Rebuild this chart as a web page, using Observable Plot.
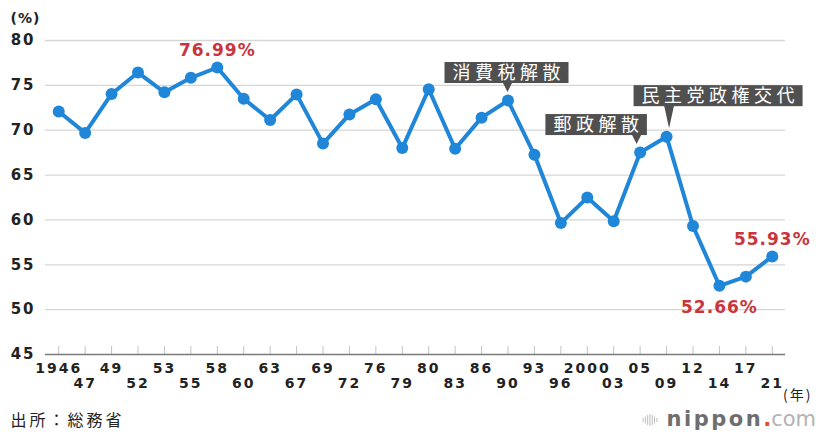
<!DOCTYPE html>
<html lang="ja">
<head>
<meta charset="utf-8">
<script src="https://cdn.jsdelivr.net/npm/d3@7"></script>
<script src="https://cdn.jsdelivr.net/npm/@observablehq/plot@0.6"></script>
<style>
html,body{margin:0;padding:0;background:#fff;}
#chart svg{display:block;}
g[aria-label="x-axis tick label"] text{letter-spacing:2px;}
g[aria-label="y-axis tick label"] text{letter-spacing:2px;}
</style>
</head>
<body>
<div id="chart"></div>
<script>
// ---- data ----
const years = ["1946","1947","1949","1952","1953","1955","1958","1960","1963","1967","1969","1972","1976","1979","1980","1983","1986","1990","1993","1996","2000","2003","2005","2009","2012","2014","2017","2021"];
const tickLabels = ["1946","47","49","52","53","55","58","60","63","67","69","72","76","79","80","83","86","90","93","96","2000","03","05","09","12","14","17","21"];
const turnout = [72.08,69.7,74.04,76.43,74.22,75.84,76.99,73.51,71.14,73.99,68.51,71.76,73.45,68.01,74.57,67.94,71.40,73.31,67.26,59.65,62.49,59.86,67.51,69.28,59.32,52.66,53.68,55.93];
const yTicks = [45,50,55,60,65,70,75,80];
const peakYearsAbove = ["1958","2021"];
const peakYearsBelow = ["2014"];
const eventYears = ["1990","2005","2009"];
const eventLabels = ["消費税解散","郵政解散","民主党政権交代"];
const yUnit = "(%)";
const xUnit = "(年)";
const source = "出所：総務省";

// ---- styles / layout ----
const blue = "#1f86d8", red = "#c9353d", boxFill = "#505050";
const numFont = "'DejaVu Sans', 'Liberation Sans', sans-serif";
const jpFont = "'Noto Sans CJK JP', 'Noto Sans', sans-serif";
const callout = {size: 18, spacing: 4.5, pad: 8, h: 21};
const calloutLayout = {
  "1990": {dx: -1, dy: -27.5, tipDx: 0},
  "2005": {dx: -43.5, dy: -27.5, tipDx: -3},
  "2009": {dx: 52, dy: -40.5, tipDx: 3}
};

// ---- tables ----
const data = years.map((year, i) => ({year, value: turnout[i]}));
const labelOf = new Map(years.map((y, i) => [y, tickLabels[i]]));
const rowA = years.filter((_, i) => i % 2 === 0);
const rowB = years.filter((_, i) => i % 2 === 1);
const yMin = yTicks[0], yMax = yTicks[yTicks.length - 1];
const peakAbove = data.filter(d => peakYearsAbove.includes(d.year));
const peakBelow = data.filter(d => peakYearsBelow.includes(d.year));
const calloutData = eventYears.map((year, i) => ({year, label: eventLabels[i], value: turnout[years.indexOf(year)]}));

// render wrapper that adds letter-spacing to the text elements of a mark
const spaced = (px) => (index, scales, values, dimensions, context, next) => {
  const g = next(index, scales, values, dimensions, context);
  d3.select(g).selectAll("text").style("letter-spacing", px + "px");
  return g;
};

function calloutRender(index, scales, values) {
  const g = d3.create("svg:g").attr("aria-label", "callout");
  for (const i of index) {
    const d = calloutData[i];
    const L = calloutLayout[d.year];
    const px = values.x[i], py = values.y[i];
    const n = Array.from(d.label).length;
    const w = n * (callout.size + callout.spacing) - callout.spacing + 2 * callout.pad;
    const cx = px + L.dx, cy = py + L.dy;
    const top = cy - callout.h / 2, bottom = cy + callout.h / 2;
    const tx = px + L.tipDx;
    g.append("path")
      .attr("d", `M${tx - 5},${bottom - 1}L${tx + 5},${bottom - 1}L${tx},${py - 8}Z`)
      .attr("fill", boxFill);
    g.append("rect")
      .attr("x", cx - w / 2).attr("y", top)
      .attr("width", w).attr("height", callout.h)
      .attr("fill", boxFill);
    g.append("text")
      .attr("x", cx + callout.spacing / 2).attr("y", cy)
      .attr("dy", "0.36em")
      .attr("text-anchor", "middle")
      .attr("fill", "#fff")
      .attr("font-family", jpFont)
      .attr("font-size", callout.size)
      .style("letter-spacing", callout.spacing + "px")
      .text(d.label);
  }
  return g.node();
}

const chart = Plot.plot({
  width: 816, height: 434,
  marginTop: 40, marginRight: 31, marginBottom: 80, marginLeft: 45,
  style: {background: "#fff", color: "#222", fontFamily: numFont, overflow: "visible"},
  x: {type: "point", domain: years, padding: 0.5, round: false, label: null},
  y: {domain: [yMin, yMax], label: null},
  marks: [
    Plot.gridY(yTicks.slice(1), {stroke: "#d6d6d6", strokeOpacity: 1, strokeWidth: 1.3}),
    Plot.ruleX(years, {x: d => d, y1: yMin, y2: yMin, insetTop: -8, stroke: "#c4c4c4", strokeWidth: 1}),
    Plot.ruleY([yMin], {stroke: "#7a7a7a", strokeWidth: 1.6}),
    Plot.axisY(yTicks, {tickSize: 0, tickPadding: 10, fontSize: 15, fontWeight: "bold", label: null}),
    Plot.axisX(rowA, {tickSize: 0, tickPadding: 9, tickFormat: d => labelOf.get(d), fontSize: 14, fontWeight: "bold", label: null}),
    Plot.axisX(rowB, {tickSize: 0, tickPadding: 24, tickFormat: d => labelOf.get(d), fontSize: 14, fontWeight: "bold", label: null}),
    Plot.line(data, {x: "year", y: "value", stroke: blue, strokeWidth: 4, strokeLinejoin: "round"}),
    Plot.dot(data, {x: "year", y: "value", r: 6, fill: blue}),
    Plot.text(peakAbove, {x: "year", y: "value", text: d => `${d.value.toFixed(2)}%`, dy: -17, fill: red, fontSize: 17, fontWeight: "bold", render: spaced(1)}),
    Plot.text(peakBelow, {x: "year", y: "value", text: d => `${d.value.toFixed(2)}%`, dy: 22, fill: red, fontSize: 17, fontWeight: "bold", render: spaced(1)}),
    Plot.text(calloutData, {x: "year", y: "value", text: "label", render: calloutRender}),
    Plot.text([yUnit], {frameAnchor: "top-left", dx: -35, dy: -22, textAnchor: "start", lineAnchor: "middle", fontSize: 14, fontWeight: "bold", render: spaced(1)}),
    Plot.text([xUnit], {frameAnchor: "bottom-right", dx: 27, dy: 41, textAnchor: "end", lineAnchor: "middle", fontSize: 14, fontFamily: jpFont, render: spaced(2)}),
    Plot.text([source], {frameAnchor: "bottom-left", dx: -35, dy: 66, textAnchor: "start", lineAnchor: "middle", fontSize: 16, fontFamily: jpFont, render: spaced(3)})
  ]
});

document.getElementById("chart").append(chart);

// nippon.com wordmark
const W = 816;
const logo = d3.select(chart).append("g").attr("aria-label", "logo");
const word = logo.append("text")
  .attr("x", W).attr("y", 426)
  .attr("text-anchor", "end")
  .attr("font-family", numFont)
  .attr("font-size", 21);
word.append("tspan").text("nippon").attr("fill", "#6e6e6e").attr("font-weight", "bold").style("letter-spacing", "2.5px");
word.append("tspan").text(".").attr("fill", "#e0522b").attr("font-weight", "bold");
word.append("tspan").text("com").attr("fill", "#b3b3b3");
const bb = word.node().getBBox();
const barH = [4, 7, 10, 12, 10, 7, 4];
barH.forEach((h, i) => {
  logo.append("rect")
    .attr("x", bb.x - 24 + i * 2.3).attr("y", 420 - h / 2)
    .attr("width", 1).attr("height", h)
    .attr("fill", "#bdbdbd");
});
</script>
</body>
</html>
